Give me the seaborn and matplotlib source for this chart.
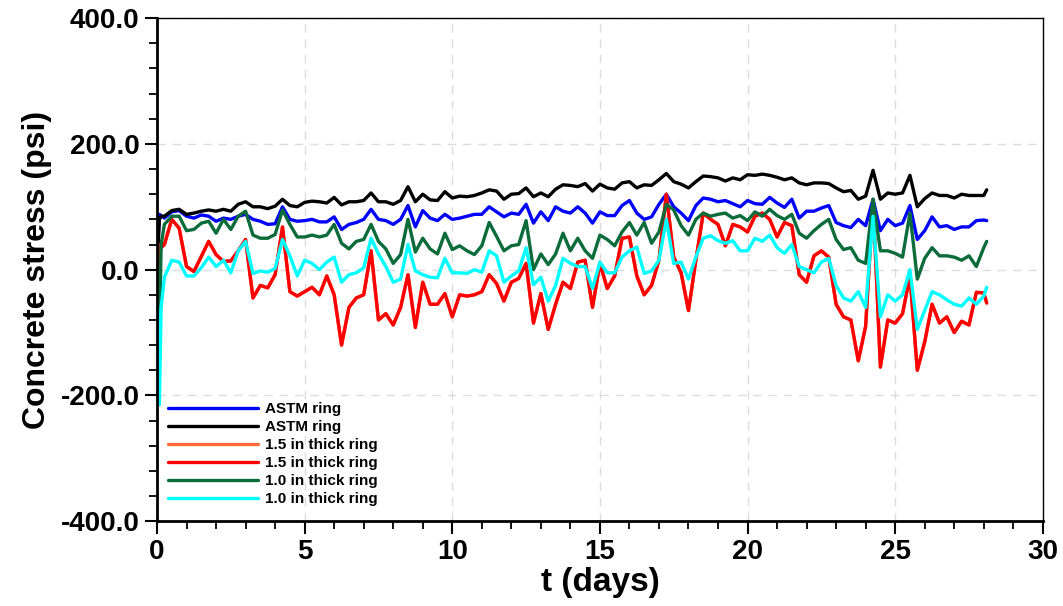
import matplotlib
matplotlib.use("Agg")
import matplotlib.pyplot as plt
from matplotlib.ticker import MultipleLocator, FormatStrFormatter
import seaborn as sns

# Sampling times (days): a few early readings, then every quarter day
days = [0.0, 0.04, 0.08, 0.14] + [round(0.25 * k, 2) for k in range(1, 113)] + [28.1]

astm_a = [0, 50, 88, 86,
          82, 92, 94, 85, 82, 87, 85, 77, 82, 80, 85, 88,
          80, 77, 72, 73, 100, 80, 77, 78, 80, 76, 76, 84,
          64, 72, 75, 80, 96, 80, 78, 72, 80, 102, 68, 94,
          82, 78, 88, 80, 82, 85, 88, 88, 100, 92, 84, 90,
          88, 104, 74, 92, 78, 100, 93, 90, 100, 90, 74, 92,
          86, 86, 102, 110, 90, 80, 84, 104, 120, 100, 90, 78,
          102, 114, 112, 108, 110, 105, 100, 110, 105, 104, 115, 106,
          99, 112, 82, 93, 93, 98, 102, 75, 70, 67, 80, 70,
          112, 62, 80, 70, 74, 102, 48, 62, 84, 68, 70, 64,
          68, 68, 78, 79, 78]

astm_b = [0, 40, 80, 85,
          85, 94, 96, 88, 90, 93, 95, 93, 96, 93, 104, 108,
          100, 100, 97, 101, 112, 102, 100, 107, 109, 108, 106, 115,
          103, 108, 108, 110, 122, 108, 108, 104, 110, 132, 108, 120,
          111, 110, 124, 114, 117, 116, 118, 122, 127, 125, 112, 120,
          121, 130, 116, 122, 116, 128, 135, 134, 132, 137, 125, 136,
          130, 128, 138, 140, 130, 135, 134, 143, 153, 140, 136, 130,
          140, 149, 148, 146, 141, 146, 143, 151, 150, 152, 150, 147,
          143, 146, 138, 135, 138, 138, 137, 130, 124, 126, 112, 117,
          158, 112, 122, 120, 122, 150, 100, 113, 122, 118, 118, 114,
          120, 118, 118, 118, 127]

thick15_b = [0, 10, 40, 35,
             40, 80, 66, 5, -3, 21, 45, 24, 13, 14, 30, 48,
             -45, -25, -29, -8, 68, -35, -42, -35, -28, -40, -10, -40,
             -120, -60, -45, -40, 30, -80, -70, -88, -60, -8, -92, -20,
             -55, -55, -38, -75, -40, -42, -40, -35, -8, -22, -50, -20,
             -14, 10, -85, -38, -95, -55, -20, -30, 12, 15, -60, 10,
             -30, -10, 50, 52, -10, -40, -25, 15, 120, 20, -5, -65,
             15, 90, 80, 72, 38, 72, 68, 60, 85, 90, 80, 52,
             75, 70, -8, -20, 22, 30, 20, -55, -75, -80, -145, -90,
             110, -155, -80, -85, -70, -10, -160, -115, -55, -85, -75, -100,
             -82, -88, -36, -37, -53]

# Second gauge on the 1.5 in ring tracks the first one
thick15_a = list(thick15_b)

thick10_a = [0, -50, -110, 40,
             72, 85, 85, 62, 64, 74, 77, 58, 80, 64, 85, 93,
             55, 50, 50, 56, 95, 72, 52, 52, 55, 52, 55, 72,
             42, 33, 45, 48, 72, 45, 33, 10, 24, 80, 28, 50,
             33, 25, 58, 32, 38, 30, 24, 38, 75, 53, 30, 38,
             40, 78, 0, 25, 8, 25, 58, 30, 50, 30, 18, 55,
             48, 38, 60, 75, 55, 75, 42, 60, 104, 95, 70, 55,
             80, 90, 85, 88, 90, 82, 86, 78, 92, 85, 96, 86,
             80, 88, 58, 50, 62, 72, 80, 48, 32, 35, 15, 10,
             112, 30, 30, 26, 20, 90, -15, 18, 35, 22, 22, 20,
             15, 22, 5, 35, 45]

thick10_b = [0, -150, -215, -60,
             -12, 15, 12, -10, -10, 3, 20, 5, 15, -5, 30, 45,
             -6, -2, -4, 2, 48, 22, -10, 15, 10, 0, 12, 20,
             -20, -8, -5, 3, 50, 25, 5, -20, -15, 40, -2, -8,
             -12, -13, 18, -5, -5, -6, 0, -4, 30, 22, -20, -10,
             -2, 35, -24, -12, -50, -25, 18, 10, 5, 5, -30, 12,
             -5, -5, 20, 30, 36, -6, -2, 15, 80, 10, 12, -15,
             20, 50, 54, 46, 42, 46, 30, 30, 50, 45, 55, 35,
             26, 40, 5, 0, -5, 12, 18, -25, -45, -50, -35, -60,
             85, -75, -40, -50, -40, 0, -95, -65, -35, -40, -48, -55,
             -58, -45, -55, -42, -28]

labels = ["ASTM ring", "ASTM ring", "1.5 in thick ring", "1.5 in thick ring",
          "1.0 in thick ring", "1.0 in thick ring"]
series = [astm_a, astm_b, thick15_a, thick15_b, thick10_a, thick10_b]
colors = ["#0000ff", "#000000", "#ff6a3d", "#ff0000", "#0b6b3a", "#00ffff"]

sns.set_style("ticks")
plt.rcParams["font.family"] = ["Liberation Sans", "DejaVu Sans"]
plt.rcParams["font.weight"] = "bold"
plt.rcParams["text.color"] = "black"
plt.rcParams["axes.labelcolor"] = "black"
plt.rcParams["xtick.color"] = "black"
plt.rcParams["ytick.color"] = "black"

fig, ax = plt.subplots(figsize=(10.63, 6.06), dpi=100)
fig.subplots_adjust(left=0.1477, right=0.981, top=0.970, bottom=0.140)

for lab, vals, col in zip(labels, series, colors):
    sns.lineplot(x=days, y=vals, ax=ax, color=col, linewidth=2.4,
                 label=lab, estimator=None, sort=False)

ax.set_xlim(0, 30)
ax.set_ylim(-400, 400)
ax.xaxis.set_major_locator(MultipleLocator(5))
ax.xaxis.set_minor_locator(MultipleLocator(1))
ax.yaxis.set_major_locator(MultipleLocator(200))
ax.yaxis.set_minor_locator(MultipleLocator(40))
ax.yaxis.set_major_formatter(FormatStrFormatter("%.1f"))

ax.grid(True, which="major", linestyle=(0, (6, 5)), color="#dcdcdc", linewidth=1)
ax.set_axisbelow(True)

for side in ["left", "bottom"]:
    ax.spines[side].set_linewidth(2.0)
    ax.spines[side].set_color("black")
for side in ["top", "right"]:
    ax.spines[side].set_visible(True)
    ax.spines[side].set_linewidth(1.0)
    ax.spines[side].set_color("black")

ax.tick_params(which="major", direction="out", length=9, width=1.5,
               labelsize=20, colors="black", top=False, right=False)
ax.tick_params(which="minor", direction="out", length=6, width=1.3,
               colors="black", top=False, right=False)
for lbl in ax.get_xticklabels() + ax.get_yticklabels():
    lbl.set_fontweight("bold")

ax.set_xlabel("t (days)", fontsize=24, fontweight="bold", color="black", labelpad=2)
ax.set_ylabel("Concrete stress (psi)", fontsize=23, fontweight="bold",
              color="black", labelpad=6)

leg = ax.legend(loc="lower left", bbox_to_anchor=(0.005, 0.018), borderaxespad=0,
                frameon=False, prop={"weight": "bold", "size": 11},
                handlelength=5.9, handletextpad=0.5, labelspacing=0.26)
for txt in leg.get_texts():
    txt.set_color("black")

fig.savefig("out.png", dpi=100)
